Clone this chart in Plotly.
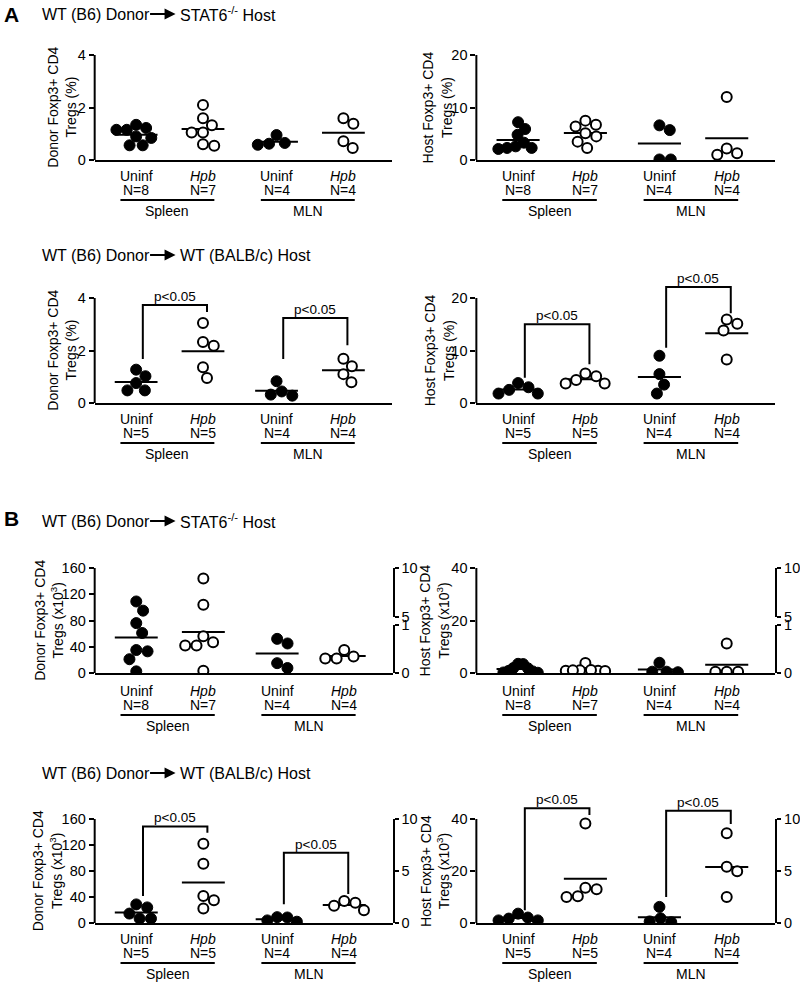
import math
import plotly.graph_objects as go

# ---------------- data ----------------
groups = ["Uninf", "Hpb", "Uninf", "Hpb"]
tissues = ["Spleen", "MLN"]

# order inside each panel: [Spleen Uninf, Spleen Hpb, MLN Uninf, MLN Hpb]
a_stat6_donor_pct = [
    [1.34, 0.84, 1.15, 0.56, 1.15, 0.56, 0.90, 1.22],
    [1.32, 2.10, 1.59, 1.05, 1.05, 0.54, 0.60],
    [0.65, 0.58, 0.62, 0.95],
    [1.59, 1.38, 0.46, 0.71],
]
a_stat6_host_pct = [
    [7.2, 5.9, 4.8, 3.3, 2.6, 2.3, 2.1, 2.3],
    [7.5, 6.4, 6.7, 4.5, 5.1, 3.5, 2.3],
    [6.6, 5.7, 0.1, 0.1],
    [12.0, 2.2, 1.0, 1.3],
]
a_wt_donor_pct = [
    [0.76, 1.27, 0.48, 0.48, 1.02],
    [3.05, 2.32, 2.18, 1.36, 0.95],
    [0.83, 0.44, 0.28, 0.32],
    [1.69, 1.40, 1.10, 0.79],
]
a_wt_host_pct = [
    [3.8, 2.5, 1.8, 1.8, 3.0],
    [5.6, 4.4, 3.7, 3.7, 5.1],
    [9.0, 5.5, 3.5, 1.8],
    [15.1, 15.9, 13.8, 8.3],
]
b_stat6_donor_num = [
    [109, 95, 76, 61, 35, 33, 21, 2.5],
    [144, 104, 56, 42, 42, 47, 3.5],
    [52, 45, 15, 7.6],
    [25, 22, 22, 35],
]
b_stat6_host_num = [
    [3.5, 3.4, 1.9, 1.8, 0.8, 0.6, 0.2, 0.1],
    [3.8, 0.9, 1.0, 0.8, 1.1, 0.9, 1.0],
    [0.5, 0.3, 0.5, 3.9],
    [11.2, 0.5, 0.5, 0.5],
]
b_wt_donor_num = [
    [28.6, 14.5, 6.8, 6.8, 24.0],
    [122, 91, 41.5, 22.3, 35],
    [8.5, 2.0, 4.0, 9.0],
    [31, 19.7, 26.5, 34],
]
b_wt_host_num = [
    [3.6, 1.7, 1.0, 1.0, 2.1],
    [38.3, 13.0, 10.0, 10.3, 13.6],
    [6.2, 1.8, 0.3, 0.6],
    [34.5, 21.6, 19.9, 10.0],
]

p_text = "p<0.05"
# brackets: (left group, right group, top, left-leg bottom, right-leg bottom)
a_wt_donor_brackets = [(0, 1, 3.73, 1.68, 3.47), (2, 3, 3.24, 1.68, 2.2)]
a_wt_host_brackets = [(0, 1, 15.0, 4.8, 7.4), (2, 3, 22.1, 10.5, 17.1)]
b_wt_donor_brackets = [(0, 1, 148.6, 41.6, 139), (2, 3, 108, 29, 44.7)]
b_wt_host_brackets = [(0, 1, 44.1, 4.9, 41.5), (2, 3, 43.2, 10, 38.1)]

donor_text = "WT (B6) Donor"
host_stat6 = "STAT6<sup>-/-</sup> Host"
host_wt = "WT (BALB/c) Host"

# ---------------- layout helpers ----------------
W, H = 800, 982
FONT = "Arial, Liberation Sans, sans-serif"
group_pos = [0.0, 1.0, 2.1, 3.1]
XR = [-0.62, 3.82]
# vertical placement of the page in the photograph (offset / usable height)
Y_OFF, Y_SPAN = 8.0, 966.0


def fx(px):
    return px / W


def fy(px):
    return 1 - (px - Y_OFF) / Y_SPAN


panels = [
    dict(data=a_stat6_donor_pct, xpx=(96, 397), y0=160, alen=105, ymax=4, ticks=[0, 2, 4],
         ytitle="Donor Foxp3+ CD4<br>Tregs (%)", tx=63, br=[], dy=0),
    dict(data=a_stat6_host_pct, xpx=(483, 786), y0=160, alen=105, ymax=20, ticks=[0, 10, 20],
         ytitle="Host Foxp3+ CD4<br>Tregs (%)", tx=444, br=[], dy=0),
    dict(data=a_wt_donor_pct, xpx=(96, 397), y0=403, alen=105, ymax=4, ticks=[0, 2, 4],
         ytitle="Donor Foxp3+ CD4<br>Tregs (%)", tx=63, br=a_wt_donor_brackets, dy=0),
    dict(data=a_wt_host_pct, xpx=(483, 786), y0=403, alen=105, ymax=20, ticks=[0, 10, 20],
         ytitle="Host Foxp3+ CD4<br>Tregs (%)", tx=446, br=a_wt_host_brackets, dy=0),
    dict(data=b_stat6_donor_num, xpx=(96, 398), y0=673, alen=105, ymax=160, ticks=[0, 40, 80, 120, 160],
         ytitle="Donor Foxp3+ CD4<br>Tregs (x10<sup>3</sup>)", tx=49, br=[], dy=2),
    dict(data=b_stat6_host_num, xpx=(483, 786), y0=673, alen=105, ymax=40, ticks=[0, 20, 40],
         ytitle="Host Foxp3+ CD4<br>Tregs (x10<sup>3</sup>)", tx=440, br=[], dy=2),
    dict(data=b_wt_donor_num, xpx=(96, 398), y0=923, alen=104, ymax=160, ticks=[0, 40, 80, 120, 160],
         ytitle="Donor Foxp3+ CD4<br>Tregs (x10<sup>3</sup>)", tx=48, br=b_wt_donor_brackets, dy=0),
    dict(data=b_wt_host_num, xpx=(483, 786), y0=923, alen=104, ymax=40, ticks=[0, 20, 40],
         ytitle="Host Foxp3+ CD4<br>Tregs (x10<sup>3</sup>)", tx=441, br=b_wt_host_brackets, dy=0),
]


def swarm_offsets(vals, ppy, d=11.5, maxhalf=20.0):
    placed = []
    offs = [0.0] * len(vals)
    order = sorted(range(len(vals)), key=lambda i: -vals[i])
    for i in order:
        y = vals[i] * ppy
        cands = [0.0]
        for xp, yp in placed:
            ddy = abs(y - yp)
            if ddy < d:
                ddx = math.sqrt(d * d - ddy * ddy)
                cands += [xp + ddx, xp - ddx]

        def ok(x):
            return all((x - xp) ** 2 + (y - yp) ** 2 >= d * d - 1e-6 for xp, yp in placed)

        valid = [c for c in cands if ok(c)]
        best = min(valid, key=lambda c: (round(abs(c), 6), -c))
        offs[i] = best
        placed.append((best, y))
    m = max(abs(o) for o in offs)
    if m > maxhalf:
        offs = [o * maxhalf / m for o in offs]
    return offs


fig = go.Figure()
layout = dict(
    width=W, height=H, margin=dict(l=0, r=0, t=0, b=0, pad=0),
    paper_bgcolor="white", plot_bgcolor="rgba(0,0,0,0)",
    showlegend=False, font=dict(family=FONT, size=14, color="black"),
)
shapes = []
annotations = []

for k, p in enumerate(panels, start=1):
    xa = "x" if k == 1 else f"x{k}"
    ya = "y" if k == 1 else f"y{k}"
    xkey = "xaxis" if k == 1 else f"xaxis{k}"
    ykey = "yaxis" if k == 1 else f"yaxis{k}"
    ppu = p["alen"] / p["ymax"]
    rtop = p["ymax"]
    for b in p["br"]:
        rtop = max(rtop, b[2] * 1.03)
    x0px, x1px = p["xpx"]
    pxx = (x1px - x0px) / (XR[1] - XR[0])
    layout[xkey] = dict(domain=[fx(x0px), fx(x1px)], range=XR, anchor=ya, showline=True,
                        linewidth=2, linecolor="black", showticklabels=False, ticks="",
                        showgrid=False, zeroline=False, fixedrange=True)
    layout[ykey] = dict(domain=[fy(p["y0"]), fy(p["y0"] - rtop * ppu)], range=[0, rtop], anchor=xa,
                        tickvals=p["ticks"], ticks="outside", ticklen=5, tickwidth=2,
                        tickcolor="black", showline=False, showgrid=False, zeroline=False,
                        tickfont=dict(size=14.5, family=FONT), fixedrange=True)
    # y spine up to axis maximum
    shapes.append(dict(type="line", xref=f"{xa} domain", yref=ya, x0=0, x1=0, y0=0, y1=p["ymax"],
                       line=dict(color="black", width=2)))
    # data
    for g, vals in enumerate(p["data"]):
        pos = group_pos[g]
        offs = swarm_offsets(vals, ppu)
        mean = sum(vals) / len(vals)
        fig.add_trace(go.Scatter(x=[pos - 0.32, pos + 0.32], y=[mean, mean], mode="lines",
                                 line=dict(color="black", width=2), xaxis=xa, yaxis=ya,
                                 hoverinfo="skip"))
        filled = g % 2 == 0
        fig.add_trace(go.Scatter(
            x=[pos + o / pxx for o in offs], y=vals, mode="markers", xaxis=xa, yaxis=ya,
            marker=dict(symbol="circle", size=11 if filled else 10,
                        color="black" if filled else "white",
                        line=dict(color="black", width=1 if filled else 2))))
        # category labels
        lab = groups[g] if filled else f"<i>{groups[g]}</i>"
        annotations.append(dict(text=lab, x=pos, xref=xa, y=fy(p["y0"] + 16 + p["dy"]), yref="paper",
                                showarrow=False, font=dict(size=14), yanchor="middle", borderpad=0))
        annotations.append(dict(text=f"N={len(vals)}", x=pos, xref=xa, y=fy(p["y0"] + 30 + p["dy"]),
                                yref="paper", showarrow=False, font=dict(size=14), yanchor="middle",
                                borderpad=0))
    for t, tname in enumerate(tissues):
        u0 = group_pos[2 * t] - 0.235
        u1 = group_pos[2 * t + 1] + 0.17
        shapes.append(dict(type="line", xref=xa, yref="paper", x0=u0, x1=u1,
                           y0=fy(p["y0"] + 40 + p["dy"]), y1=fy(p["y0"] + 40 + p["dy"]),
                           line=dict(color="black", width=2)))
        annotations.append(dict(text=tname, x=(u0 + u1) / 2, xref=xa, y=fy(p["y0"] + 51 + p["dy"]),
                                yref="paper", showarrow=False, font=dict(size=14), yanchor="middle",
                                borderpad=0))
    # brackets
    for (gl, gr, top, lb, rb) in p["br"]:
        xl = group_pos[gl] + 0.1
        xr = group_pos[gr] + 0.06
        shapes.append(dict(type="path", xref=xa, yref=ya,
                           path=f"M {xl},{lb} L {xl},{top} L {xr},{top} L {xr},{rb}",
                           line=dict(color="black", width=2)))
        annotations.append(dict(text=p_text, x=(xl + xr) / 2, xref=xa, y=top, yref=ya,
                                showarrow=False, yanchor="bottom", font=dict(size=13.5), borderpad=0))
    # y-axis title
    annotations.append(dict(text=p["ytitle"], x=fx(p["tx"]), xref="paper",
                            y=fy(p["y0"] - p["alen"] / 2), yref="paper", textangle=-90,
                            showarrow=False, font=dict(size=14), xanchor="center", yanchor="middle"))

# right-hand secondary axes of panel B (empty scales)
right_axes = [
    (5, 9, (617, 568), [5, 10]), (5, 10, (673, 625), [0, 1]),
    (6, 11, (617, 568), [5, 10]), (6, 12, (673, 625), [0, 1]),
    (7, 13, (923, 819), [0, 10]), (8, 14, (923, 819), [0, 10]),
]
right_ticks = {9: [5, 10], 10: [0, 1], 11: [5, 10], 12: [0, 1], 13: [0, 5, 10], 14: [0, 5, 10]}
for (pk, yk, (b_px, t_px), rng) in right_axes:
    layout[f"yaxis{yk}"] = dict(domain=[fy(b_px), fy(t_px)], range=rng, anchor=f"x{pk}", side="right",
                                tickvals=right_ticks[yk], ticks="outside", ticklen=4, tickwidth=2,
                                tickcolor="black", showline=True, linewidth=2, linecolor="black",
                                showgrid=False, zeroline=False, tickfont=dict(size=14.5, family=FONT),
                                fixedrange=True)
    fig.add_trace(go.Scatter(x=[None], y=[None], xaxis=f"x{pk}", yaxis=f"y{yk}", mode="markers",
                             hoverinfo="skip"))

# panel letters and row titles
for letter, ypx in (("A", 14), ("B", 518)):
    annotations.append(dict(text=f"<b>{letter}</b>", x=fx(2), y=fy(ypx), xref="paper", yref="paper",
                            xanchor="left", yanchor="middle", showarrow=False, font=dict(size=21)))
for host, ypx in ((host_stat6, 14), (host_wt, 255), (host_stat6, 521), (host_wt, 773)):
    annotations.append(dict(text=donor_text, x=fx(41), y=fy(ypx), xref="paper", yref="paper",
                            xanchor="left", yanchor="middle", showarrow=False, font=dict(size=16)))
    annotations.append(dict(text=host, x=fx(180), y=fy(ypx), xref="paper", yref="paper",
                            xanchor="left", yanchor="middle", showarrow=False, font=dict(size=16)))
    annotations.append(dict(text="", x=fx(178), y=fy(ypx), xref="paper", yref="paper",
                            showarrow=True, ax=-27, ay=0, axref="pixel", ayref="pixel",
                            arrowhead=2, arrowsize=1.1, arrowwidth=2, arrowcolor="black",
                            standoff=0, startstandoff=0))

layout["shapes"] = shapes
layout["annotations"] = annotations
fig.update_layout(**layout)

page_fix = (
    "var gd=document.getElementById('{plot_id}');"
    "gd.style.position='absolute';gd.style.left='0px';gd.style.top='0px';"
    "document.documentElement.style.margin='0px';document.documentElement.style.padding='0px';"
    "document.body.style.margin='0px';document.body.style.padding='0px';"
    "document.body.style.overflow='hidden';"
)
fig.write_html("out.html", config={"displayModeBar": False}, post_script=page_fix)
